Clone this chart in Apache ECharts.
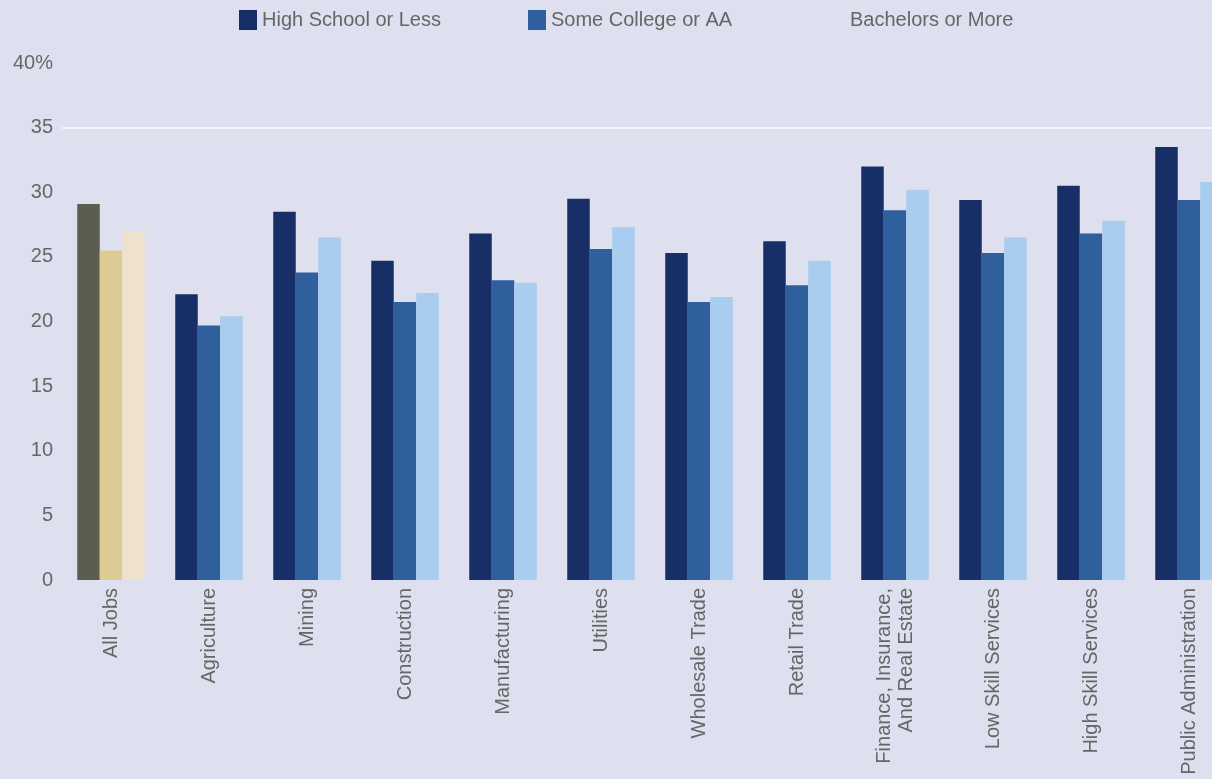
<!DOCTYPE html>
<html>
<head>
<meta charset="utf-8">
<script src="https://cdn.jsdelivr.net/npm/echarts@6/dist/echarts.min.js"></script>
<style>
html,body{margin:0;padding:0;background:#dfe0ef;overflow:hidden;}
#chart{width:1212px;height:779px;}
</style>
</head>
<body>
<div id="chart"></div>
<script>
const categories = ['All Jobs','Agriculture','Mining','Construction','Manufacturing','Utilities','Wholesale Trade','Retail Trade','Finance, Insurance,\nAnd Real Estate','Low Skill Services','High Skill Services','Public Administration'];
const seriesNames = ['High School or Less','Some College or AA','Bachelors or More'];
const highSchool = [29.1, 22.1, 28.5, 24.7, 26.8, 29.5, 25.3, 26.2, 32.0, 29.4, 30.5, 33.5];
const someCollege = [25.5, 19.7, 23.8, 21.5, 23.2, 25.6, 21.5, 22.8, 28.6, 25.3, 26.8, 29.4];
const bachelors = [27.0, 20.4, 26.5, 22.2, 23.0, 27.3, 21.9, 24.7, 30.2, 26.5, 27.8, 30.8];
const yTicks = [0, 5, 10, 15, 20, 25, 30, 35, 40];

const seriesColors = ['#172e67', '#2f5f9d', '#a9cdee'];
const allJobsColors = ['#5d5d4f', '#dccb92', '#efe2cc'];
const fontFamily = '"Liberation Sans", Arial, sans-serif';

function buildData(values, idx) {
  return values.map((v, i) => i === 0 ? { value: v, itemStyle: { color: allJobsColors[idx] } } : v);
}

const chart = echarts.init(document.getElementById('chart'));
chart.setOption({
  backgroundColor: '#dfe0ef',
  animation: false,
  legend: [
    {
      left: 239, top: 10, padding: 0,
      itemWidth: 18, itemHeight: 20, itemGap: 87,
      icon: 'rect',
      data: [seriesNames[0], seriesNames[1]],
      textStyle: { fontSize: 20, color: '#666', fontFamily: fontFamily }
    },
    {
      left: 827, top: 10, padding: 0,
      itemWidth: 18, itemHeight: 20,
      icon: 'rect',
      data: [{ name: seriesNames[2], itemStyle: { opacity: 0 } }],
      textStyle: { fontSize: 20, color: '#666', fontFamily: fontFamily }
    }
  ],
  grid: { left: 62, width: 1176, top: 63, bottom: 199, containLabel: false, outerBoundsMode: 'none' },
  xAxis: {
    type: 'category',
    data: categories,
    axisLine: { show: false },
    axisTick: { show: false },
    axisLabel: {
      rotate: 90, margin: 8, interval: 0,
      fontSize: 20, color: '#666', fontFamily: fontFamily, lineHeight: 22
    }
  },
  yAxis: {
    type: 'value',
    min: yTicks[0], max: yTicks[yTicks.length - 1], interval: 5,
    axisLine: { show: false },
    axisTick: { show: false },
    axisLabel: {
      margin: 9, fontSize: 20, color: '#666', fontFamily: fontFamily,
      formatter: v => v === 40 ? '40%' : String(v)
    },
    splitLine: {
      show: true,
      lineStyle: {
        width: 2,
        color: ['rgba(0,0,0,0)','rgba(0,0,0,0)','rgba(0,0,0,0)','rgba(0,0,0,0)','rgba(0,0,0,0)','rgba(0,0,0,0)','rgba(0,0,0,0)','#f4f4fb','rgba(0,0,0,0)']
      }
    }
  },
  series: [highSchool, someCollege, bachelors].map((vals, idx) => ({
    name: seriesNames[idx],
    type: 'bar',
    barWidth: 22.5,
    barGap: '0%',
    itemStyle: { color: seriesColors[idx] },
    data: buildData(vals, idx)
  }))
});
</script>
</body>
</html>
